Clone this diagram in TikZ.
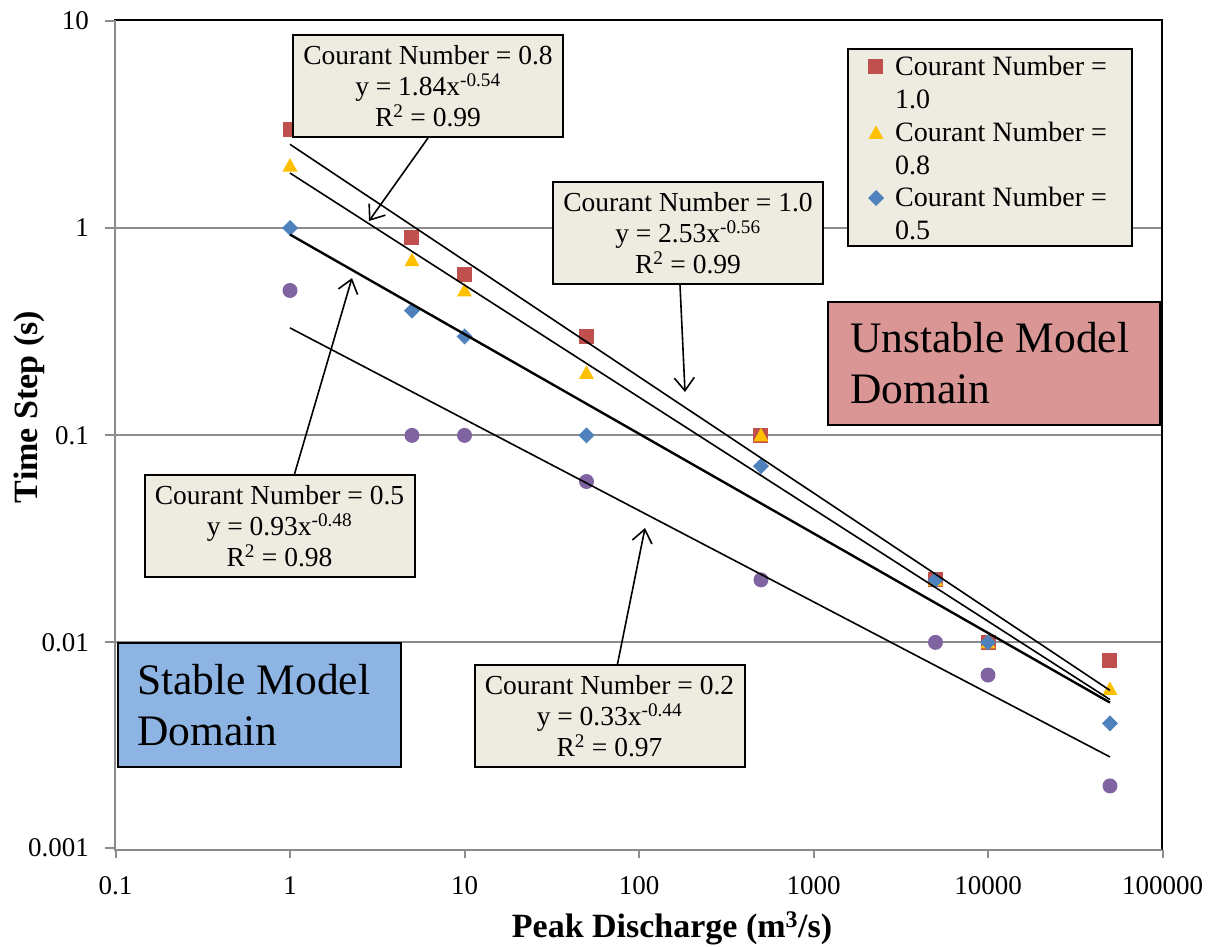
\documentclass[tikz,border=0pt]{standalone}
\usepackage{fontspec}
\setmainfont{Liberation Serif}
\usetikzlibrary{arrows.meta}
\definecolor{boxfill}{HTML}{EEECE1}
\definecolor{cred}{HTML}{C0504D}
\definecolor{cyel}{HTML}{FFC000}
\definecolor{cblue}{HTML}{4F81BD}
\definecolor{cpur}{HTML}{8064A2}
\definecolor{unst}{HTML}{D99694}
\definecolor{stab}{HTML}{8DB4E2}
\definecolor{gridc}{HTML}{8C8C8C}
% \LX takes log10 of x value
\newcommand\LX[1]{290+174.5*(#1)}
\newcommand\LY[1]{228-207.5*log10(#1)}
\begin{document}
\begin{tikzpicture}[x=1pt,y=-1pt,
  gridline/.style={draw=gridc,line width=2pt},
  frameline/.style={draw=black,line width=2pt},
  ticklab/.style={font=\fontsize{27}{30}\selectfont,inner sep=0pt},
  callout/.style={draw=black,line width=2pt,fill=boxfill,align=center,
     font=\fontsize{27.5}{31}\selectfont,minimum width=270pt,minimum height=102pt,inner sep=0pt},
  domainbox/.style={draw=black,line width=1.6pt,inner sep=0pt},
  domaintext/.style={anchor=west,align=left,font=\fontsize{43.5}{51}\selectfont,inner sep=0pt},
  trend/.style={draw=black,line width=1.6pt},
  arr/.style={draw=black,line width=1.6pt,-{Straight Barb[length=13pt,width=20pt,line width=1.6pt]}},
  legtext/.style={anchor=west,align=left,font=\fontsize{28}{33}\selectfont,inner sep=0pt},
  axtitle/.style={font=\bfseries\fontsize{34}{38}\selectfont,inner sep=0pt}
]
\useasboundingbox (0,0) rectangle (1215,947);
% gridlines
\foreach \v in {1,0.1,0.01}{
  \pgfmathsetmacro\py{\LY{\v}}
  \draw[gridline] (115,\py) -- (1162,\py);
}
% frame top/right
\draw[frameline] (114,20) -- (1162,20) -- (1162,851);
% axes
\draw[gridline] (115,20) -- (115,850) -- (1162,850);
\foreach \v/\t in {10/10,1/1,0.1/0.1,0.01/0.01,0.001/0.001}{
  \pgfmathsetmacro\py{\LY{\v}}
  \draw[gridline] (105,\py) -- (115,\py);
  \node[ticklab,anchor=east] (yl\t) at (89,\py) {\t};
}
\foreach \e/\t in {-1/0.1,0/1,1/10,2/100,3/1000,4/10000,5/100000}{
  \pgfmathsetmacro\px{\LX{\e}}
  \draw[gridline] (\px,850) -- (\px,858);
  \node[ticklab] (xl\t) at (\px,886) {\t};
}
\node[axtitle,rotate=90,anchor=base] (ytitle) at (37,407) {Time Step (s)};
\node[axtitle,anchor=base] (xtitle) at (672,937) {Peak Discharge (m\textsuperscript{3}/s)};
% data markers (x given as log10)
\def\lf{0.69897}
\foreach \a/\b in {0/3,\lf/0.9,1/0.6,1.69897/0.3,2.69897/0.1,3.69897/0.02,4/0.01,4.69897/0.008}{
  \pgfmathsetmacro\px{\LX{\a}}\pgfmathsetmacro\py{\LY{\b}}
  \fill[cred,shift={(\px,\py)}] (-7.5,-7.5) rectangle (7.5,7.5);
}
\foreach \a/\b in {0/2,\lf/0.7,1/0.5,1.69897/0.2,2.69897/0.1,3.69897/0.02,4/0.01,4.69897/0.006}{
  \pgfmathsetmacro\px{\LX{\a}}\pgfmathsetmacro\py{\LY{\b}}
  \fill[cyel,shift={(\px,\py)}] (0,-7.5) -- (7.5,6) -- (-7.5,6) -- cycle;
}
\foreach \a/\b in {0/1,\lf/0.4,1/0.3,1.69897/0.1,2.69897/0.07,3.69897/0.02,4/0.01,4.69897/0.004}{
  \pgfmathsetmacro\px{\LX{\a}}\pgfmathsetmacro\py{\LY{\b}}
  \fill[cblue,shift={(\px,\py)}] (0,-8) -- (8,0) -- (0,8) -- (-8,0) -- cycle;
}
\foreach \a/\b in {0/0.5,\lf/0.1,1/0.1,1.69897/0.06,2.69897/0.02,3.69897/0.01,4/0.007,4.69897/0.002}{
  \pgfmathsetmacro\px{\LX{\a}}\pgfmathsetmacro\py{\LY{\b}}
  \fill[cpur] (\px,\py) circle (7.5);
}
% trendlines
\foreach \c/\e/\n/\w in {2.53/0.56/t10/1.6,1.84/0.54/t08/1.6,0.93/0.48/t05/2.4,0.33/0.44/t02/1.6}{
  \pgfmathsetmacro\ya{\LY{\c}}
  \pgfmathsetmacro\yb{228-207.5*(log10(\c)-\e*4.69897)}
  \pgfmathsetmacro\xb{\LX{4.69897}}
  \coordinate (\n a) at (290,\ya);
  \coordinate (\n b) at (\xb,\yb);
  \draw[trend,line width=\w pt] (\n a) -- (\n b);
}
% callouts
\node[callout] (b08) at (428,86) {Courant Number = 0.8\\y = 1.84x\textsuperscript{-0.54}\\R\textsuperscript{2} = 0.99};
\node[callout] (b10) at (688,233) {Courant Number = 1.0\\y = 2.53x\textsuperscript{-0.56}\\R\textsuperscript{2} = 0.99};
\node[callout] (b05) at (279.5,526) {Courant Number = 0.5\\y = 0.93x\textsuperscript{-0.48}\\R\textsuperscript{2} = 0.98};
\node[callout] (b02) at (609.5,716) {Courant Number = 0.2\\y = 0.33x\textsuperscript{-0.44}\\R\textsuperscript{2} = 0.97};
% arrows
\coordinate (a08) at (369,221);
\coordinate (a10) at (685,392);
\coordinate (a05) at (352,278);
\coordinate (a02) at (645,528);
\draw[arr] (b08.south) -- (a08);
\draw[arr] ([xshift=-8pt]b10.south) -- (a10);
\draw[arr] ([xshift=15pt]b05.north) -- (a05);
\draw[arr] ([xshift=8pt]b02.north) -- (a02);
% legend
\node[draw=black,line width=2pt,fill=boxfill,minimum width=284pt,minimum height=197pt,inner sep=0pt] (leg) at (990,147.5) {};
\fill[cred,shift={(875,67)}] (-7.5,-7.5) rectangle (7.5,7.5);
\node[legtext] (l10) at (895,82.5) {Courant Number =\\1.0};
\fill[cyel,shift={(876,133)}] (0,-7.5) -- (7.5,6) -- (-7.5,6) -- cycle;
\node[legtext] (l08) at (895,148) {Courant Number =\\0.8};
\fill[cblue,shift={(876,198)}] (0,-8) -- (8,0) -- (0,8) -- (-8,0) -- cycle;
\node[legtext] (l05) at (895,213.5) {Courant Number =\\0.5};
% domains
\node[domainbox,fill=unst,minimum width=332pt,minimum height=123pt] (unstable) at (994,363.5) {};
\node[domaintext] (unstablet) at (850,363.5) {Unstable Model\\Domain};
\node[domainbox,fill=stab,line width=1.2pt,minimum width=283pt,minimum height=124pt] (stable) at (259.5,705) {};
\node[domaintext] (stablet) at (137,705) {Stable Model\\Domain};
\end{tikzpicture}
\end{document}
